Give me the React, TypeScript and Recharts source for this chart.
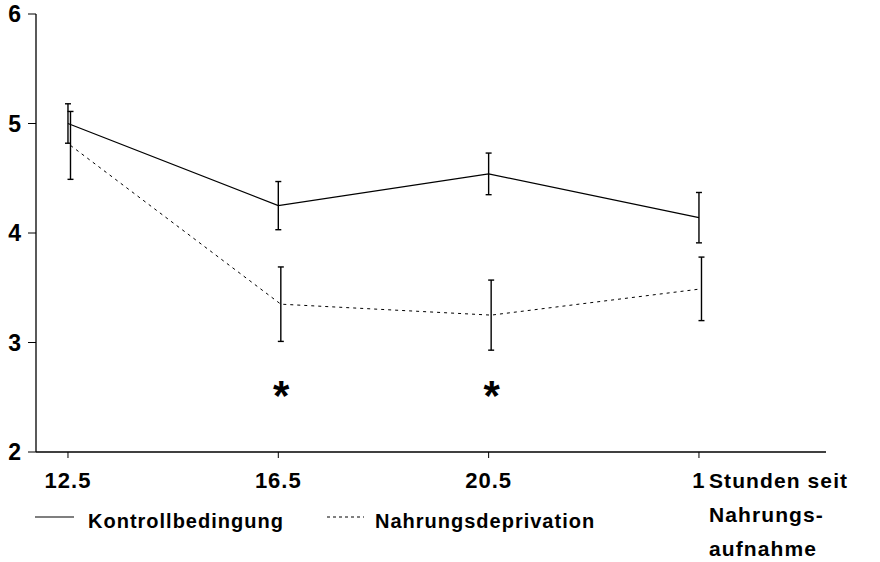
import React from 'react';
import { ComposedChart, Line, XAxis, YAxis, ErrorBar, Scatter } from 'recharts';

const categories = ['12.5', '16.5', '20.5', '1'];
const controlMeans = [5.0, 4.25, 4.54, 4.14];
const controlErrors = [0.18, 0.22, 0.19, 0.23];
const deprivationMeans = [4.8, 3.35, 3.25, 3.49];
const deprivationErrors = [0.31, 0.34, 0.32, 0.29];
const significantCategories = ['16.5', '20.5'];
const asteriskLevel = 2.58;
const yTicks = [2, 3, 4, 5, 6];
const xAxisTitle = ['Stunden seit', 'Nahrungs-', 'aufnahme'];
const seriesNames = ['Kontrollbedingung', 'Nahrungsdeprivation'];

const FONT = '"Liberation Sans", Arial, Helvetica, sans-serif';
const SERIES_SHIFT = 0.012;

const controlData = categories.map((c, i) => ({ x: i, y: controlMeans[i], e: controlErrors[i] }));
const deprivationData = categories.map((c, i) => ({ x: i + SERIES_SHIFT, y: deprivationMeans[i], e: deprivationErrors[i] }));
const asteriskData = significantCategories.map((c) => ({ x: categories.indexOf(c), y: asteriskLevel }));

const XTick = (props: any) => {
  const { x, y, payload } = props;
  const i = payload.value as number;
  const isLast = i === categories.length - 1;
  return (
    <g>
      <text x={x} y={y + 28} textAnchor="middle" fontFamily={FONT} fontWeight="bold" style={{ fontWeight: 700 }} fontSize={22} letterSpacing={1} fill="#000">
        {categories[i]}
      </text>
      {isLast &&
        xAxisTitle.map((t, k) => (
          <text key={k} x={x + 10} y={y + 28 + k * 34} textAnchor="start" fontFamily={FONT} fontWeight="bold" style={{ fontWeight: 700 }} fontSize={21} letterSpacing={1.1} fill="#000">
            {t}
          </text>
        ))}
    </g>
  );
};

const YTick = (props: any) => {
  const { y, payload } = props;
  return (
    <text x={21} y={y + 8} textAnchor="end" fontFamily={FONT} fontWeight="bold" style={{ fontWeight: 700 }} fontSize={23} fill="#000">
      {payload.value}
    </text>
  );
};

const Asterisk = (props: any) => {
  const { cx, cy } = props;
  return (
    <text x={cx + 3} y={cy + 22} textAnchor="middle" fontFamily={FONT} fontWeight="bold" fontSize={42} fill="#000">
      *
    </text>
  );
};

export default function App() {
  return (
    <div style={{ position: 'absolute', left: 0, top: 0, width: 880, height: 562, background: '#fff' }}>
      <ComposedChart width={880} height={562} margin={{ top: 14, right: 54, bottom: 0, left: 0 }}>
        <XAxis
          type="number"
          dataKey="x"
          domain={[-0.152, 3.604]}
          ticks={[0, 1, 2, 3]}
          allowDataOverflow
          interval={0}
          height={110}
          tickSize={6}
          tick={<XTick />}
          axisLine={{ stroke: '#000', strokeWidth: 1.3 }}
          tickLine={{ stroke: '#000', strokeWidth: 1 }}
        />
        <YAxis
          type="number"
          domain={[2, 6]}
          ticks={yTicks}
          width={36}
          tickSize={8}
          tick={<YTick />}
          axisLine={{ stroke: '#000', strokeWidth: 1.3 }}
          tickLine={{ stroke: '#000', strokeWidth: 1 }}
        />
        <Line
          data={controlData}
          dataKey="y"
          name={seriesNames[0]}
          stroke="#000"
          strokeWidth={1.3}
          dot={false}
          isAnimationActive={false}
        >
          <ErrorBar dataKey="e" direction="y" width={3} stroke="#000" strokeWidth={1.4} />
        </Line>
        <Line
          data={deprivationData}
          dataKey="y"
          name={seriesNames[1]}
          stroke="#000"
          strokeWidth={1}
          strokeDasharray="3 4"
          dot={false}
          isAnimationActive={false}
        >
          <ErrorBar dataKey="e" direction="y" width={3} stroke="#000" strokeWidth={1.4} />
        </Line>
        <Scatter data={asteriskData} dataKey="y" shape={<Asterisk />} isAnimationActive={false} />
      </ComposedChart>
      <svg width={880} height={562} style={{ position: 'absolute', left: 0, top: 0, pointerEvents: 'none' }}>
        <line x1={35} x2={74} y1={517} y2={517} stroke="#000" strokeWidth={1.2} />
        <text x={88} y={528} fontFamily={FONT} fontWeight="bold" fontSize={20} letterSpacing={1} fill="#000">
          {seriesNames[0]}
        </text>
        <line x1={327} x2={364} y1={517} y2={517} stroke="#000" strokeWidth={1} strokeDasharray="3 3" />
        <text x={375} y={528} fontFamily={FONT} fontWeight="bold" fontSize={20} letterSpacing={1} fill="#000">
          {seriesNames[1]}
        </text>
      </svg>
    </div>
  );
}
